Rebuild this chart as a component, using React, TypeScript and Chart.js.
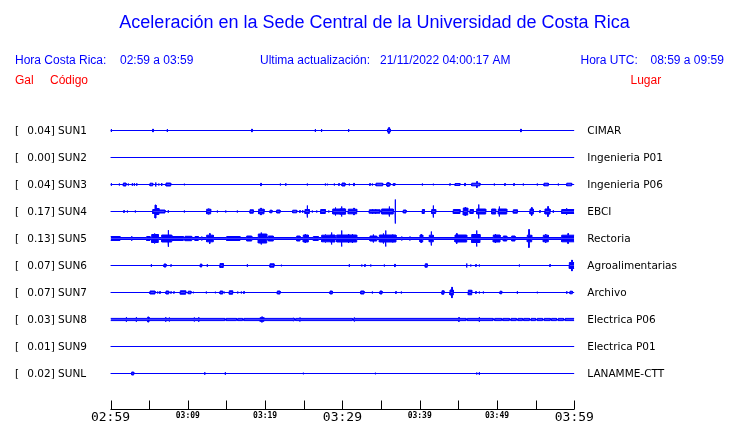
import React, { useEffect, useRef } from "react";
import { Chart, registerables } from "chart.js";

Chart.register(...registerables);

// ---------- data ----------
const STATIONS = ["SUN1", "SUN2", "SUN3", "SUN4", "SUN5", "SUN6", "SUN7", "SUN8", "SUN9", "SUNL"];
const PLACES = ["CIMAR", "Ingenieria P01", "Ingenieria P06", "EBCI", "Rectoria", "Agroalimentarias", "Archivo", "Electrica P06", "Electrica P01", "LANAMME-CTT"];
const PGA = ["0.04", "0.00", "0.04", "0.17", "0.13", "0.07", "0.07", "0.03", "0.01", "0.02"];

// bursts: [start minute, end minute, half amplitude]; start === end means a single spike
const SUN1 = [[0.1, 0.1, 1.5], [5.5, 5.5, 1.5], [7.35, 7.35, 1.5], [18.3, 18.3, 1.5], [26.5, 26.5, 1.5], [27.3, 27.3, 1.5], [30.8, 30.8, 1.5], [35.85, 36.2, 1.5], [35.95, 36.1, 2.8], [53.1, 53.1, 1.5]];
const SUN2: number[][] = [];
const SUN3 = [[0.1, 0.1, 1.3], [1.14, 1.14, 1], [1.66, 2.0, 1.5], [2.3, 2.3, 1], [2.82, 2.82, 1.3], [3.08, 3.08, 1.3], [3.39, 3.39, 1.3], [5.11, 5.46, 1.3], [5.85, 5.85, 2], [6.24, 6.24, 1], [6.62, 6.62, 1.5], [7.18, 7.79, 1.5], [9.55, 9.55, 0.8], [19.47, 19.47, 1.3], [21.97, 21.97, 1], [22.67, 22.67, 1.3], [25.46, 25.46, 1], [27.79, 27.79, 1], [28.05, 28.05, 0.8], [28.95, 28.95, 1], [29.56, 29.56, 1], [29.95, 30.34, 1.5], [30.89, 30.89, 1], [31.5, 31.5, 1.3], [33.57, 33.57, 1], [33.87, 33.87, 1], [34.35, 35.21, 1.3], [35.73, 36.16, 1.5], [35.9, 35.9, 2], [36.58, 36.8, 1], [40.34, 40.34, 1], [41.76, 41.76, 0.8], [43.92, 43.92, 0.8], [44.57, 45.21, 1], [45.86, 45.86, 1.3], [46.73, 47.8, 1.3], [47.41, 47.41, 3], [49.65, 49.65, 1], [51.03, 51.03, 1], [52.2, 52.2, 1], [53.4, 53.4, 1], [55.21, 55.21, 1], [56.08, 56.64, 1.3], [57.93, 57.93, 1], [59.02, 59.66, 1.3]];
const SUN4 = [[1.75, 1.75, 1], [2.18, 2.18, 1], [3.21, 3.21, 1], [5.46, 5.76, 2], [5.76, 5.89, 6.5], [5.89, 6.27, 3], [6.27, 7.05, 1.5], [7.47, 7.47, 1.3], [9.55, 9.55, 1], [12.44, 12.96, 2.3], [12.7, 12.7, 3], [13.82, 13.82, 1], [14.9, 14.9, 1], [16.4, 16.4, 1], [18.05, 18.47, 1.7], [19.17, 19.86, 2.3], [19.47, 19.47, 3.5], [20.63, 20.89, 1.3], [21.5, 21.93, 1.5], [23.57, 24.09, 1.3], [24.51, 24.51, 1], [24.86, 24.86, 1.3], [25.16, 25.72, 2], [25.46, 25.46, 6], [26.1, 26.1, 1], [26.67, 26.67, 1], [27.19, 27.79, 2], [28.23, 28.23, 1], [28.75, 29.69, 2.5], [29.1, 29.1, 4], [29.69, 30.34, 2.7], [29.9, 29.9, 5], [30.43, 30.43, 1.5], [30.76, 31.85, 2.3], [31.5, 31.5, 3.5], [33.48, 34.86, 1.7], [33.9, 33.9, 2.5], [34.3, 34.3, 2.5], [35.08, 36.58, 2.5], [36.07, 36.07, 5], [36.84, 36.84, 12], [37.88, 38.23, 1.5], [40.34, 40.6, 2], [41.55, 42.07, 2], [41.76, 41.76, 6], [44.35, 45.21, 2], [45.64, 46.21, 3.5], [45.9, 45.9, 4.5], [46.51, 46.93, 2], [47.37, 48.54, 2.5], [47.63, 47.63, 7], [49.31, 49.83, 2.5], [50.17, 51.26, 2.5], [50.3, 50.3, 5], [52.11, 52.63, 1.7], [54.27, 54.7, 2.5], [54.5, 54.5, 4], [55.56, 55.56, 1], [56.21, 56.86, 2.5], [56.6, 56.6, 5], [57.28, 57.28, 1.3], [58.37, 60, 2], [59.0, 59.0, 3.3]];
const SUN5 = [[0, 60, 1.0], [0, 1.23, 2], [2.74, 2.74, 2.3], [4.68, 5.11, 2], [5.33, 6.18, 4], [5.7, 5.7, 5], [6.62, 7.92, 3.5], [7.48, 7.48, 8.3], [7.92, 9.42, 2], [9.64, 10.5, 2.2], [10.93, 11.36, 2], [11.8, 11.8, 2], [12.44, 13.3, 3.3], [12.85, 12.85, 5], [15.03, 16.75, 2], [17.62, 18.27, 2.5], [19.12, 20.21, 4.5], [19.5, 19.5, 6], [20.41, 21.06, 2.5], [24.09, 24.51, 2.5], [24.94, 25.59, 3.5], [25.2, 25.2, 4.5], [26.24, 26.88, 2], [27.32, 28.4, 3.3], [27.8, 27.8, 4], [28.4, 29.04, 3.5], [28.6, 28.6, 6], [29.26, 30.98, 3.5], [29.9, 29.9, 8], [30.34, 31.85, 3.5], [30.8, 30.8, 4.5], [31.3, 31.3, 4.5], [33.57, 34.44, 2.5], [34.0, 34.0, 4], [34.78, 36.93, 3.5], [35.3, 35.3, 5], [35.6, 35.6, 8], [36.5, 36.5, 4], [37.67, 37.67, 2], [38.74, 38.74, 1.7], [40.04, 40.39, 3.5], [40.2, 40.2, 4.5], [41.24, 41.76, 3.3], [41.5, 41.5, 7], [44.57, 46.08, 3.5], [44.8, 44.8, 5], [46.73, 47.8, 4], [47.37, 47.37, 8], [49.52, 50.39, 3.5], [49.8, 49.8, 4.5], [50.82, 51.26, 2.5], [51.9, 52.33, 2.5], [53.92, 54.49, 3.3], [54.14, 54.14, 9], [55.99, 56.64, 3.3], [56.3, 56.3, 4.5], [58.37, 60, 3.3], [59.2, 59.2, 5]];
const SUN6 = [[5.28, 5.28, 1.3], [6.92, 7.18, 1.5], [7.83, 7.83, 0.8], [11.62, 11.8, 1.5], [12.52, 12.52, 1.3], [14.17, 14.59, 2], [14.38, 14.38, 2.5], [17.7, 17.7, 1.3], [20.63, 21.15, 1.7], [22.1, 22.1, 0.8], [30.89, 30.89, 1.3], [32.5, 32.5, 1], [32.92, 32.92, 1], [33.66, 33.66, 1], [35.42, 35.42, 1], [36.8, 36.8, 1.3], [40.72, 40.98, 1.7], [46.08, 46.08, 2], [46.6, 46.6, 1], [47.28, 47.28, 1], [47.71, 47.71, 1], [52.89, 52.89, 1], [56.86, 56.86, 1], [59.36, 60, 3], [59.7, 59.7, 5.5]];
const SUN7 = [[5.11, 5.76, 1.5], [6.1, 6.1, 1], [6.4, 6.4, 1], [7.18, 7.53, 1.5], [7.83, 7.83, 0.8], [8.21, 8.21, 0.8], [9.03, 9.73, 1.7], [10.06, 10.41, 1.3], [10.71, 10.71, 0.8], [12.39, 12.39, 1], [13.56, 13.56, 0.8], [14.17, 14.52, 1.5], [14.72, 14.72, 0.8], [15.37, 15.8, 1.7], [16.45, 16.45, 1], [16.92, 16.92, 1], [17.27, 17.27, 1], [21.58, 21.93, 1.5], [28.4, 28.69, 1.5], [32.37, 32.79, 1.5], [33.87, 33.87, 1], [34.86, 35.12, 1.5], [36.93, 36.93, 1], [37.62, 37.62, 1], [42.88, 43.14, 1.7], [43.92, 44.35, 2.5], [44.18, 44.18, 5.3], [46.29, 46.73, 2.3], [47.28, 47.28, 1], [47.71, 47.71, 1], [48.23, 48.23, 1], [50.39, 50.61, 1.3], [52.63, 52.63, 1.3], [55.21, 55.21, 0.8], [59.02, 59.02, 1.3], [59.44, 59.74, 1.3]];
const SUN8 = [[0, 14.8, 1.1], [14.95, 16.3, 1.1], [16.45, 17.1, 1.1], [17.25, 23.8, 1.1], [23.95, 31.3, 1.1], [31.45, 46.0, 1.1], [46.15, 49.5, 1.1], [49.7, 50.6, 1.1], [50.75, 51.6, 1.1], [51.8, 52.5, 1.1], [52.7, 53.3, 1.1], [53.45, 54.2, 1.1], [54.4, 55.0, 1.1], [55.2, 55.9, 1.1], [56.1, 56.9, 1.1], [57.05, 57.7, 1.1], [57.9, 58.6, 1.1], [58.8, 60, 1.1], [2.05, 2.05, 2.3], [3.34, 3.34, 2.3], [4.81, 4.98, 2.5], [7.14, 7.14, 2.3], [7.61, 7.61, 2], [10.84, 10.84, 2], [11.41, 11.41, 2.3], [19.34, 19.86, 1.8], [19.6, 19.6, 2.7], [23.65, 23.65, 1.7], [24.51, 24.51, 1.7], [31.54, 31.54, 2], [45.08, 45.08, 2], [47.71, 47.71, 2.3]];
const SUN9: number[][] = [];
const SUNL = [[2.74, 3.0, 1.5], [12.19, 12.19, 1.3], [14.85, 14.85, 1.3], [24.94, 24.94, 0.8], [34.26, 34.26, 0.8], [47.37, 47.37, 1], [47.71, 47.71, 1.3]];

const TRACES = [SUN1, SUN2, SUN3, SUN4, SUN5, SUN6, SUN7, SUN8, SUN9, SUNL];

const WINDOW_MINUTES = 60;
const TICK_MINUTES = [0, 5, 10, 15, 20, 25, 30, 35, 40, 45, 50, 55, 60];
const LABEL_MINUTES = [0, 10, 20, 30, 40, 50, 60];
const TICK_LABELS = ["02:59", "03:09", "03:19", "03:29", "03:39", "03:49", "03:59"];
const MAJOR_LABELS = [true, false, false, true, false, false, true];

// ---------- styling ----------
const BLUE = "#0000ff";
const RED = "#ff0000";
const AMP_PER_ROW = 27;
const SPIKE_WIDTH = 0.06;

function envelope(events: number[][]) {
  const iv = events.map(([a, b, m]) => (a === b ? [a - SPIKE_WIDTH / 2, a + SPIKE_WIDTH / 2, m] : [a, b, m]));
  const clamp = (v: number) => Math.max(0, Math.min(WINDOW_MINUTES, v));
  const set = new Set<number>([0, WINDOW_MINUTES]);
  iv.forEach((v) => {
    set.add(clamp(v[0]));
    set.add(clamp(v[1]));
  });
  const bps = Array.from(set).sort((p, q) => p - q);
  const pts: number[][] = [];
  for (let i = 0; i < bps.length - 1; i++) {
    const a = bps[i];
    const b = bps[i + 1];
    const mid = (a + b) / 2;
    let m = 0;
    for (const v of iv) if (v[0] <= mid && mid <= v[1] && v[2] > m) m = v[2];
    pts.push([a, m], [b, m]);
  }
  return pts;
}

function buildDatasets() {
  const ds: any[] = [];
  TRACES.forEach((ev, row) => {
    const pts = envelope(ev);
    [-1, 1].forEach((sign) => {
      ds.push({
        data: pts.map(([x, m]) => ({ x, y: row + (sign * m) / AMP_PER_ROW })),
        borderColor: BLUE,
        backgroundColor: BLUE,
        borderWidth: 1,
        pointRadius: 0,
        tension: 0,
        fill: { value: row },
      });
    });
  });
  return ds;
}

const textPlugin = {
  id: "seismoText",
  afterDraw(chart: any) {
    const ctx = chart.ctx;
    const xs = chart.scales.x;
    const ys = chart.scales.y;
    ctx.save();
    // title
    ctx.fillStyle = BLUE;
    ctx.font = "18px 'Liberation Sans', Arial, sans-serif";
    ctx.textAlign = "center";
    ctx.textBaseline = "middle";
    ctx.fillText("Aceleración en la Sede Central de la Universidad de Costa Rica", 374.5, 23);
    // header
    ctx.font = "12px 'Liberation Sans', Arial, sans-serif";
    ctx.textAlign = "left";
    ctx.fillText("Hora Costa Rica:", 15, 61);
    ctx.fillText("02:59 a 03:59", 120, 61);
    ctx.fillText("Ultima actualización:", 260, 61);
    ctx.fillText("21/11/2022 04:00:17 AM", 380, 61);
    ctx.fillText("Hora UTC:", 580.5, 61);
    ctx.fillText("08:59 a 09:59", 650.5, 61);
    ctx.fillStyle = RED;
    ctx.fillText("Gal", 15, 81);
    ctx.fillText("Código", 50, 81);
    ctx.fillText("Lugar", 630.5, 81);
    // row labels
    ctx.fillStyle = "#000000";
    ctx.font = "10.5px 'DejaVu Sans', sans-serif";
    STATIONS.forEach((s, i) => {
      const y = ys.getPixelForValue(i) + 0.5;
      ctx.fillText("[", 15, y);
      ctx.fillText(PGA[i] + "] " + s, 27.3, y);
      ctx.fillText(PLACES[i], 587.3, y);
    });
    // time axis
    const axisY = 409.5;
    ctx.strokeStyle = "#000000";
    ctx.lineWidth = 1;
    ctx.beginPath();
    ctx.moveTo(xs.getPixelForValue(0), axisY);
    ctx.lineTo(xs.getPixelForValue(WINDOW_MINUTES), axisY);
    TICK_MINUTES.forEach((m) => {
      const x = Math.round(xs.getPixelForValue(m)) + 0.5;
      ctx.moveTo(x, axisY);
      ctx.lineTo(x, 400.5);
    });
    ctx.stroke();
    ctx.textAlign = "center";
    ctx.textBaseline = "alphabetic";
    LABEL_MINUTES.forEach((m, i) => {
      const x = xs.getPixelForValue(m);
      if (MAJOR_LABELS[i]) {
        ctx.font = "13px 'DejaVu Sans Mono', monospace";
        ctx.fillText(TICK_LABELS[i], x, 421);
      } else {
        ctx.font = "bold 8px 'DejaVu Sans Mono', monospace";
        ctx.fillText(TICK_LABELS[i], x, 417.5);
      }
    });
    ctx.restore();
  },
};

export default function App() {
  const ref = useRef<HTMLCanvasElement | null>(null);
  useEffect(() => {
    if (!ref.current) return;
    const chart = new Chart(ref.current, {
      type: "line",
      data: { datasets: buildDatasets() },
      options: {
        animation: false,
        responsive: false,
        devicePixelRatio: 1,
        layout: { padding: { left: 110.5, right: 740 - 574.3, top: 103.5, bottom: 22.5 } },
        scales: {
          x: { type: "linear", min: 0, max: WINDOW_MINUTES, display: false },
          y: { type: "linear", min: -1, max: 10, reverse: true, display: false },
        },
        plugins: { legend: { display: false }, tooltip: { enabled: false } },
        elements: { line: { borderJoinStyle: "miter" } },
      },
      plugins: [textPlugin],
    });
    return () => chart.destroy();
  }, []);
  return (
    <div style={{ position: "absolute", left: 0, top: 0, width: 740, height: 423, background: "#fff" }}>
      <canvas ref={ref} width={740} height={423} style={{ display: "block" }} />
    </div>
  );
}
